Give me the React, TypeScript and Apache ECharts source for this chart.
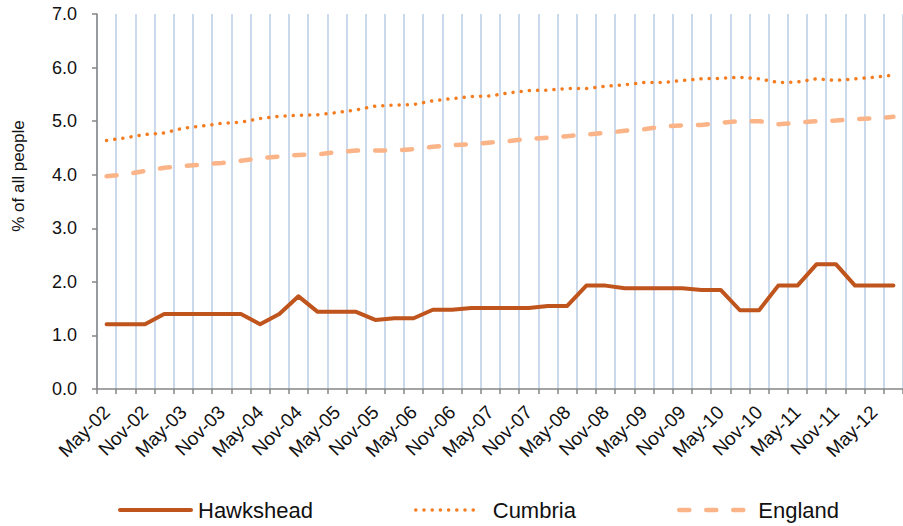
import React, { useEffect, useRef } from "react";
import * as echarts from "echarts";

const categories = [
  "May-02", "Aug-02", "Nov-02", "Feb-03", "May-03", "Aug-03", "Nov-03", "Feb-04",
  "May-04", "Aug-04", "Nov-04", "Feb-05", "May-05", "Aug-05", "Nov-05", "Feb-06",
  "May-06", "Aug-06", "Nov-06", "Feb-07", "May-07", "Aug-07", "Nov-07", "Feb-08",
  "May-08", "Aug-08", "Nov-08", "Feb-09", "May-09", "Aug-09", "Nov-09", "Feb-10",
  "May-10", "Aug-10", "Nov-10", "Feb-11", "May-11", "Aug-11", "Nov-11", "Feb-12",
  "May-12", "Aug-12",
];

const hawkshead = [
  1.21, 1.21, 1.21, 1.4, 1.4, 1.4, 1.4, 1.4, 1.21, 1.4,
  1.73, 1.44, 1.44, 1.44, 1.29, 1.32, 1.32, 1.48, 1.48, 1.51,
  1.51, 1.51, 1.51, 1.55, 1.55, 1.93, 1.93, 1.88, 1.88, 1.88,
  1.88, 1.85, 1.85, 1.47, 1.47, 1.93, 1.93, 2.33, 2.33, 1.93,
  1.93, 1.93,
];

const cumbria = [
  4.64, 4.69, 4.75, 4.78, 4.87, 4.91, 4.96, 4.98, 5.05, 5.09,
  5.11, 5.12, 5.16, 5.21, 5.28, 5.3, 5.31, 5.38, 5.42, 5.46,
  5.47, 5.53, 5.57, 5.58, 5.61, 5.61, 5.65, 5.68, 5.72, 5.72,
  5.76, 5.79, 5.8, 5.82, 5.79, 5.72, 5.73, 5.79, 5.76, 5.79,
  5.82, 5.86,
];

const england = [
  3.97, 4.01, 4.07, 4.13, 4.16, 4.19, 4.22, 4.26, 4.31, 4.34,
  4.37, 4.38, 4.42, 4.45, 4.45, 4.45, 4.48, 4.52, 4.55, 4.57,
  4.6, 4.63, 4.67, 4.69, 4.72, 4.75, 4.78, 4.82, 4.85, 4.9,
  4.92, 4.93, 4.97, 5.0, 5.0, 4.94, 4.97, 5.0, 5.01, 5.04,
  5.05, 5.08,
];

const yTitle = "% of all people";
const FONT = "'Liberation Sans', Arial, sans-serif";

const C_HAWK = "#bf541c";
const C_CUMB = "#f47d22";
const C_ENG = "#fab487";

export default function App() {
  const ref = useRef<HTMLDivElement>(null);
  useEffect(() => {
    if (!ref.current) return;
    const chart = echarts.init(ref.current, undefined, { renderer: "svg" });
    const legendText = { fontSize: 22, color: "#111", fontFamily: FONT };
    const legendCommon = { top: 499, padding: 0, itemHeight: 14, itemStyle: { opacity: 0 } };
    chart.setOption({
      animation: false,
      backgroundColor: "#fff",
      textStyle: { fontFamily: FONT },
      grid: { left: 97, right: -4, top: 14, bottom: 137, containLabel: false },
      legend: [
        {
          ...legendCommon, data: ["Hawkshead"], left: 118, itemWidth: 71,
          lineStyle: { color: C_HAWK, width: 4, type: "solid", cap: "round" },
          textStyle: { ...legendText, padding: [0, 0, 0, 2] },
        },
        {
          ...legendCommon, data: ["Cumbria"], left: 414, itemWidth: 62,
          lineStyle: { color: C_CUMB, width: 3.5, type: [0.1, 8.1], cap: "round" },
          textStyle: { ...legendText, padding: [0, 0, 0, 10] },
        },
        {
          ...legendCommon, data: ["England"], left: 677, itemWidth: 71,
          lineStyle: { color: C_ENG, width: 4.5, type: [10, 17], cap: "round" },
          textStyle: { ...legendText, padding: [0, 0, 0, 3] },
        },
      ],
      xAxis: {
        type: "category",
        data: categories,
        boundaryGap: true,
        axisLine: { show: true, lineStyle: { color: "#868686", width: 1.5 } },
        axisTick: { show: true, interval: 0, length: 5, lineStyle: { color: "#868686", width: 1.5 } },
        axisLabel: {
          interval: 1, rotate: 45, margin: 20, fontSize: 19, color: "#111", fontFamily: FONT,
        },
        splitLine: { show: true, interval: 0, lineStyle: { color: "#b9cde5", width: 1.5 } },
      },
      yAxis: {
        type: "value",
        min: 0,
        max: 7,
        interval: 1,
        axisLine: { show: true, lineStyle: { color: "#868686", width: 1.5 } },
        axisTick: { show: true, length: 5, lineStyle: { color: "#868686", width: 1.5 } },
        axisLabel: {
          margin: 20, fontSize: 18, color: "#111", fontFamily: FONT,
          formatter: (v: number) => v.toFixed(1),
        },
        splitLine: { show: false },
      },
      graphic: [
        {
          type: "text",
          x: 18,
          y: 176,
          rotation: Math.PI / 2,
          style: {
            text: yTitle, fontSize: 17, fill: "#111", fontFamily: FONT,
            align: "center", verticalAlign: "middle",
          },
        },
      ],
      series: [
        {
          name: "Hawkshead", type: "line", data: hawkshead, symbol: "none",
          lineStyle: { color: C_HAWK, width: 4, cap: "round", join: "round" },
          itemStyle: { color: C_HAWK },
          z: 4,
        },
        {
          name: "Cumbria", type: "line", data: cumbria, symbol: "none",
          lineStyle: { color: C_CUMB, width: 3.5, type: [0.1, 8.1], cap: "round" },
          itemStyle: { color: C_CUMB },
          z: 3,
        },
        {
          name: "England", type: "line", data: england, symbol: "none",
          lineStyle: { color: C_ENG, width: 4.5, type: [10, 17], cap: "round" },
          itemStyle: { color: C_ENG },
          z: 2,
        },
      ],
    });
    return () => chart.dispose();
  }, []);
  return (
    <div
      ref={ref}
      style={{ position: "fixed", left: 0, top: 0, width: 903, height: 526, overflow: "hidden" }}
    />
  );
}
